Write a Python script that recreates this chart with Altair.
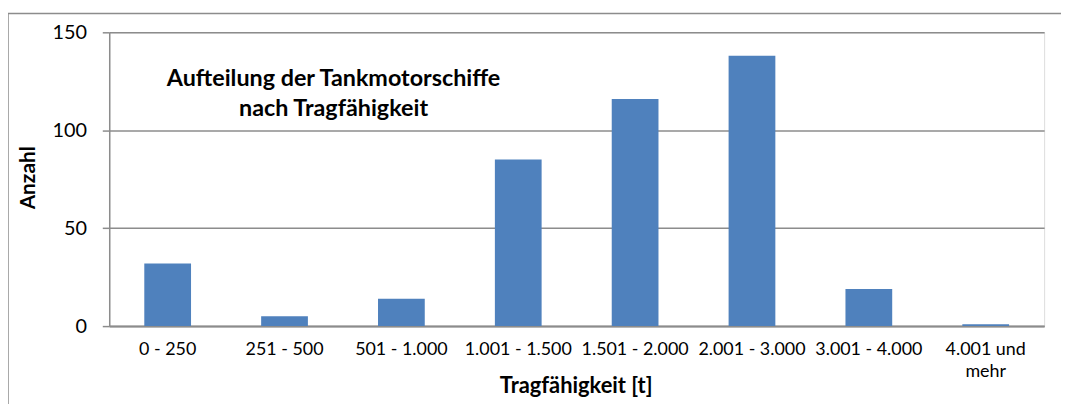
import altair as alt
import pandas as pd

categories = ["0 - 250", "251 - 500", "501 - 1.000", "1.001 - 1.500", "1.501 - 2.000",
              "2.001 - 3.000", "3.001 - 4.000", "4.001 und\nmehr"]
values = [32, 5, 14, 85, 116, 138, 19, 1]
y_ticks = [0, 50, 100, 150]
title_lines = ["Aufteilung der Tankmotorschiffe", "nach Tragfähigkeit"]

df = pd.DataFrame({"cat": categories, "val": values})
FONT = "Lato"
GREY = "#8c8c8c"

bars = alt.Chart(df).mark_bar(color="#4F81BD").encode(
    x=alt.X("cat:N", sort=categories,
            scale=alt.Scale(paddingInner=0.6, paddingOuter=0.3),
            axis=alt.Axis(title="Tragfähigkeit [t]", labelAngle=0, ticks=False,
                          labelExpr="split(datum.label, '\\n')",
                          labelFont=FONT, labelFontSize=18, labelColor="#000",
                          labelPadding=15, labelLineHeight=22,
                          domainColor=GREY, domainWidth=2,
                          titleFont=FONT, titleFontSize=22, titleFontWeight="bold",
                          titleColor="#000", titleX=470, titleY=60,
                          titleBaseline="middle")),
    y=alt.Y("val:Q", scale=alt.Scale(domain=[0, 150]),
            axis=alt.Axis(title="Anzahl", values=y_ticks, tickSize=7, tickColor=GREY,
                          tickWidth=1.5,
                          grid=True, gridColor=GREY, gridWidth=1.5,
                          domainColor=GREY, domainWidth=1.5,
                          labelFont=FONT, labelFontSize=20, labelColor="#000",
                          labelPadding=16,
                          titleFont=FONT, titleFontSize=21, titleFontWeight="bold",
                          titleColor="#000", titleAngle=270, titleX=-81, titleY=146,
                          titleBaseline="middle", titleAlign="center")),
)

title = alt.Chart(pd.DataFrame({"t": ["\n".join(title_lines)]})).mark_text(
    font=FONT, fontSize=23.5, fontWeight="bold", color="#000", align="center",
    baseline="middle", lineBreak="\n", lineHeight=30
).encode(text="t:N", x=alt.value(226), y=alt.value(47))

frame_src = pd.DataFrame({"a": [0]})
frame_top = alt.Chart(frame_src).mark_rule(color=GREY, strokeWidth=1.5).encode(
    x=alt.value(-102), x2=alt.value(2000), y=alt.value(-19))
frame_left = alt.Chart(frame_src).mark_rule(color=GREY, strokeWidth=1.5).encode(
    x=alt.value(-102), y=alt.value(-19), y2=alt.value(2000))

chart = alt.layer(frame_top, frame_left, bars, title).properties(
    width=942, height=296,
    autosize=alt.AutoSizeParams(type="none"),
    padding={"left": 102, "top": 23, "right": 17, "bottom": 77},
).configure_view(stroke=None).configure(background="white")

chart.save("out.html", embed_options={"renderer": "svg", "actions": False})
